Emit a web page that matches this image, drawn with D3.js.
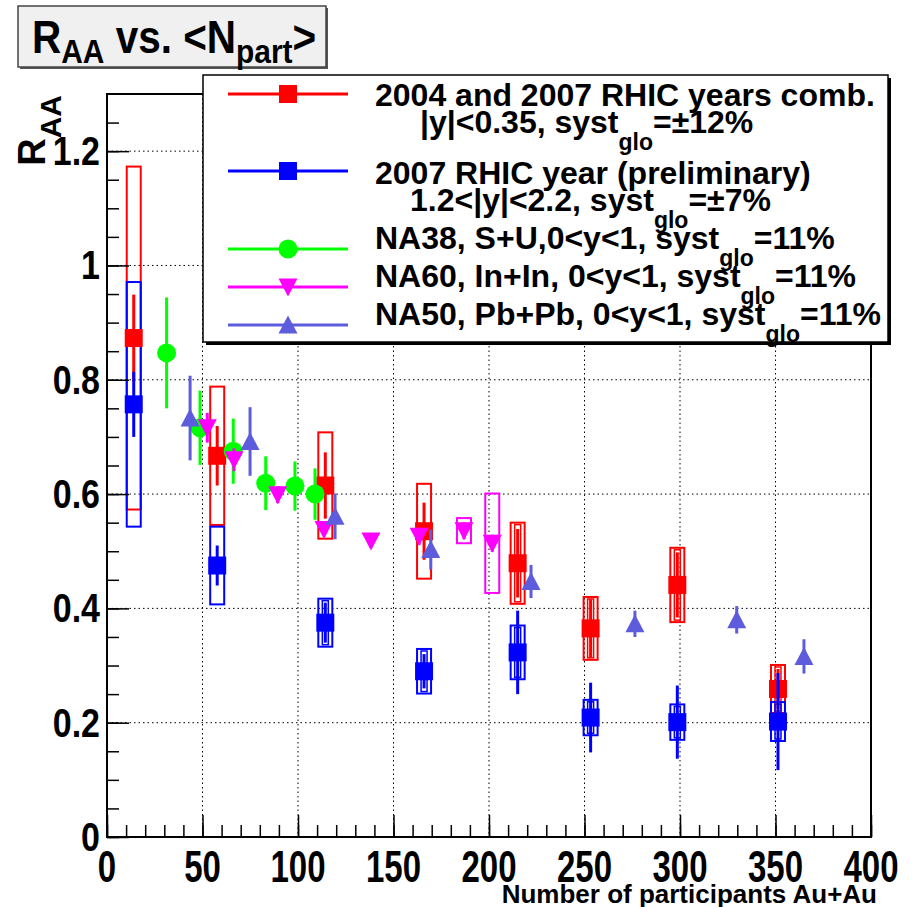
<!DOCTYPE html>
<html>
<head>
<meta charset="utf-8">
<script src="https://cdn.jsdelivr.net/npm/d3@7"></script>
<style>
body { margin: 0; background: #fff; }
svg text { font-family: "Liberation Sans", Arial, Helvetica, sans-serif; font-weight: bold; fill: #000; }
</style>
</head>
<body>
<div id="chart"></div>
<script>
// Au+Au centrality bins (same Npart for both rapidity ranges)
const npartAuAu = [14, 57.7, 114.3, 166, 215, 253.2, 298.6, 351.3];

// 2004 + 2007 combined, |y|<0.35
const raaMid = [0.873, 0.667, 0.615, 0.535, 0.479, 0.365, 0.441, 0.259];
const statMid = [0.076, 0.052, 0.058, 0.05, 0.06, 0.051, 0.057, 0.035];
const systMid = [0.30, 0.121, 0.093, 0.083, 0.071, 0.055, 0.065, 0.042];

// 2007 preliminary, 1.2<|y|<2.2
const raaFwd = [0.757, 0.475, 0.375, 0.29, 0.323, 0.209, 0.201, 0.202];
const statFwd = [0.057, 0.035, 0.035, 0.03, 0.073, 0.061, 0.064, 0.085];
const systFwd = [0.214, 0.068, 0.042, 0.039, 0.047, 0.031, 0.031, 0.034];

// NA38 S+U
const npartNA38 = [31.2, 48.7, 66.1, 83.1, 98.4, 108.9];
const raaNA38 = [0.847, 0.716, 0.675, 0.619, 0.614, 0.6];
const errNA38 = [0.097, 0.065, 0.057, 0.047, 0.043, 0.045];

// NA60 In+In
const npartNA60 = [52.5, 66.5, 89.4, 113.6, 138.2, 163.4, 186.9, 201.7];
const raaNA60 = [0.716, 0.66, 0.599, 0.538, 0.518, 0.526, 0.536, 0.514];
const errNA60 = [0.026, 0.02, 0.015, 0.012, 0.012, 0.015, 0.015, 0.015];
const systNA60 = [0, 0, 0, 0, 0, 0, 0.022, 0.087];

// NA50 Pb+Pb
const npartNA50 = [43.5, 74.9, 119.4, 169.5, 222, 276.4, 329.7, 364.9];
const raaNA50 = [0.733, 0.692, 0.561, 0.503, 0.447, 0.373, 0.38, 0.316];
const errNA50 = [0.074, 0.06, 0.04, 0.035, 0.029, 0.023, 0.024, 0.03];

// axis ticks
const xTicks = [0, 50, 100, 150, 200, 250, 300, 350, 400];
const xTickLabels = ['0', '50', '100', '150', '200', '250', '300', '350', '400'];
const yTicks = [0, 0.2, 0.4, 0.6, 0.8, 1, 1.2];
const yTickLabels = ['0', '0.2', '0.4', '0.6', '0.8', '1', '1.2'];

// legend text, one entry per line; 'sub' pieces are subscripts
const legendText = [
    [['2004 and 2007 RHIC years comb.']],
    [['|y|<0.35, syst'], ['glo', 'sub'], ['=\u00b112%']],
    [['2007 RHIC year (preliminary)']],
    [['1.2<|y|<2.2, syst'], ['glo', 'sub'], ['=\u00b17%']],
    [['NA38, S+U,0<y<1, syst'], ['glo', 'sub'], ['=11%']],
    [['NA60, In+In, 0<y<1, syst'], ['glo', 'sub'], ['=11%']],
    [['NA50, Pb+Pb, 0<y<1, syst'], ['glo', 'sub'], ['=11%']]
];

const RED = '#ff0000', BLUE = '#0000ff', GREEN = '#00ff00', MAGENTA = '#ff00ff', VIOLET = '#5c5cdc';

const margin = { top: 94, right: 43, bottom: 70, left: 107 };
const width = 914 - margin.left - margin.right;
const height = 907 - margin.top - margin.bottom;

const svg = d3.select('#chart').append('svg')
    .attr('width', 914)
    .attr('height', 907);
svg.append('rect').attr('width', 914).attr('height', 907).attr('fill', '#fff');

const x = d3.scaleLinear().domain([0, 400]).range([0, width]);
const y = d3.scaleLinear().domain([0, 1.3]).range([height, 0]);

const g = svg.append('g').attr('transform', `translate(${margin.left},${margin.top})`);

// dotted grid
g.append('g').selectAll('line').data(xTicks.slice(1, -1)).join('line')
    .attr('x1', d => x(d)).attr('x2', d => x(d))
    .attr('y1', 0).attr('y2', height)
    .attr('stroke', '#000').attr('stroke-width', 1).attr('stroke-dasharray', '1.5,3');
g.append('g').selectAll('line').data(yTicks.slice(1)).join('line')
    .attr('x1', 0).attr('x2', width)
    .attr('y1', d => y(d)).attr('y2', d => y(d))
    .attr('stroke', '#000').attr('stroke-width', 1).attr('stroke-dasharray', '1.5,3');

// helpers for the marks
function rows(xs, ys, errs, systs) {
    return xs.map((n, i) => ({ n, r: ys[i], e: errs ? errs[i] : 0, s: systs ? systs[i] : 0, i }));
}

function drawBoxes(data, color, innerFrom) {
    const grp = g.append('g');
    grp.selectAll('rect.outer').data(data.filter(d => d.s > 0)).join('rect')
        .attr('class', 'outer')
        .attr('x', d => x(d.n) - 7).attr('width', 14)
        .attr('y', d => y(d.r + d.s)).attr('height', d => y(d.r - d.s) - y(d.r + d.s))
        .attr('fill', 'none').attr('stroke', color).attr('stroke-width', 2);
    if (innerFrom != null) {
        grp.selectAll('rect.inner').data(data.filter(d => d.i >= innerFrom)).join('rect')
            .attr('class', 'inner')
            .attr('x', d => x(d.n) - 3).attr('width', 6)
            .attr('y', d => y(d.r + d.s) + 2).attr('height', d => y(d.r - d.s) - y(d.r + d.s) - 4)
            .attr('fill', 'none').attr('stroke', color).attr('stroke-width', 1.5);
    }
}

function drawErrors(data, color) {
    g.append('g').selectAll('line').data(data).join('line')
        .attr('x1', d => x(d.n)).attr('x2', d => x(d.n))
        .attr('y1', d => y(d.r + d.e)).attr('y2', d => y(d.r - d.e))
        .attr('stroke', color).attr('stroke-width', 3);
}

const markerPath = {
    square: 'M-9,-9H9V9H-9Z',
    up: 'M0,-9.5L9.5,8.5H-9.5Z',
    down: 'M0,9.5L9.5,-8.5H-9.5Z'
};

function drawMarkers(sel, data, color, shape) {
    const grp = sel.append('g');
    if (shape === 'circle') {
        grp.selectAll('circle').data(data).join('circle')
            .attr('cx', d => x(d.n)).attr('cy', d => y(d.r)).attr('r', 9.5)
            .attr('fill', color);
    } else {
        grp.selectAll('path').data(data).join('path')
            .attr('transform', d => `translate(${x(d.n)},${y(d.r)})`)
            .attr('d', markerPath[shape])
            .attr('fill', color);
    }
}

const midData = rows(npartAuAu, raaMid, statMid, systMid);
const fwdData = rows(npartAuAu, raaFwd, statFwd, systFwd);
const na38Data = rows(npartNA38, raaNA38, errNA38);
const na60Data = rows(npartNA60, raaNA60, errNA60, systNA60);
const na50Data = rows(npartNA50, raaNA50, errNA50);

drawBoxes(midData, RED, 4);
drawBoxes(fwdData, BLUE, 2);
drawBoxes(na60Data, MAGENTA, null);

drawErrors(midData, RED);
drawMarkers(g, midData, RED, 'square');
drawErrors(fwdData, BLUE);
drawMarkers(g, fwdData, BLUE, 'square');
drawErrors(na38Data, GREEN);
drawMarkers(g, na38Data, GREEN, 'circle');
drawErrors(na60Data, MAGENTA);
drawMarkers(g, na60Data, MAGENTA, 'down');
drawErrors(na50Data, VIOLET);
drawMarkers(g, na50Data, VIOLET, 'up');

// frame + inward ticks
g.append('rect').attr('width', width).attr('height', height)
    .attr('fill', 'none').attr('stroke', '#000').attr('stroke-width', 2);

g.append('g').attr('transform', `translate(0,${height})`)
    .call(d3.axisBottom(x).tickValues(d3.range(0, 401, 10)).tickSize(-12).tickFormat(''))
    .call(a => a.select('.domain').remove());
g.append('g').attr('transform', `translate(0,${height})`)
    .call(d3.axisBottom(x).tickValues(xTicks).tickSize(-22).tickFormat(''))
    .call(a => a.select('.domain').remove());
g.append('g')
    .call(d3.axisLeft(y).tickValues(d3.range(0, 1.3, 0.05)).tickSize(-12).tickFormat(''))
    .call(a => a.select('.domain').remove());
g.append('g')
    .call(d3.axisLeft(y).tickValues(yTicks).tickSize(-22).tickFormat(''))
    .call(a => a.select('.domain').remove());
g.selectAll('.tick line').attr('stroke', '#000').attr('stroke-width', 1.5);

// tick labels (ROOT style, narrow)
g.append('g').selectAll('text').data(xTicks).join('text')
    .attr('transform', d => `translate(${x(d)},${height + 45}) scale(0.75,1)`)
    .attr('text-anchor', 'middle')
    .style('font-size', '44px')
    .text((d, i) => xTickLabels[i]);
g.append('g').selectAll('text').data(yTicks).join('text')
    .attr('transform', d => `translate(-7,${y(d) + 14}) scale(0.85,1)`)
    .attr('text-anchor', 'end')
    .style('font-size', '40px')
    .text((d, i) => yTickLabels[i]);

// axis titles
svg.append('text')
    .attr('transform', 'translate(877,903) scale(1.04,1)')
    .attr('text-anchor', 'end')
    .style('font-size', '25px')
    .text('Number of participants Au+Au');

const yTitle = svg.append('text')
    .attr('transform', 'translate(45,95) rotate(-90)')
    .attr('text-anchor', 'end')
    .style('font-size', '38px');
yTitle.append('tspan').text('R');
yTitle.append('tspan').attr('dy', 16).style('font-size', '30px').text('AA');

// legend
const leg = svg.append('g');
leg.append('rect').attr('x', 206).attr('y', 78).attr('width', 685).attr('height', 267).attr('fill', '#000');
leg.append('rect').attr('x', 203).attr('y', 75).attr('width', 685).attr('height', 267)
    .attr('fill', '#fff').attr('stroke', '#000').attr('stroke-width', 1.5);

const legendRows = [
    { color: RED, shape: 'square', y: 94 },
    { color: BLUE, shape: 'square', y: 171 },
    { color: GREEN, shape: 'circle', y: 249 },
    { color: MAGENTA, shape: 'down', y: 287 },
    { color: VIOLET, shape: 'up', y: 325 }
];
legendRows.forEach(row => {
    leg.append('line').attr('x1', 228).attr('x2', 348).attr('y1', row.y).attr('y2', row.y)
        .attr('stroke', row.color).attr('stroke-width', 3);
    if (row.shape === 'circle') {
        leg.append('circle').attr('cx', 288).attr('cy', row.y).attr('r', 9.5).attr('fill', row.color);
    } else {
        leg.append('path').attr('transform', `translate(288,${row.y})`)
            .attr('d', markerPath[row.shape]).attr('fill', row.color);
    }
});

const legendPos = [[375, 106], [420, 133], [375, 184], [410, 211], [375, 249], [375, 287], [375, 325]];
legendText.forEach((parts, li) => {
    const t = leg.append('text')
        .attr('transform', `translate(${legendPos[li][0]},${legendPos[li][1]})`)
        .style('font-size', '32px');
    let shifted = false;
    parts.forEach(p => {
        const ts = t.append('tspan').text(p[0]);
        if (p[1] === 'sub') {
            ts.attr('dy', 17).style('font-size', '23px');
            shifted = true;
        } else if (shifted) {
            ts.attr('dy', -17);
            shifted = false;
        }
    });
});

// title box
svg.append('rect').attr('x', 20).attr('y', 8).attr('width', 308).attr('height', 61).attr('fill', '#555');
svg.append('rect').attr('x', 18).attr('y', 6).attr('width', 308).attr('height', 61)
    .attr('fill', '#f0f0f0').attr('stroke', '#444').attr('stroke-width', 1.5);
const title = svg.append('text')
    .attr('transform', 'translate(32,53) scale(0.88,1)')
    .style('font-size', '46px');
title.append('tspan').text('R');
title.append('tspan').attr('dy', 10).style('font-size', '34px').text('AA');
title.append('tspan').attr('dy', -10).text(' vs. <N');
title.append('tspan').attr('dy', 10).style('font-size', '34px').text('part');
title.append('tspan').attr('dy', -10).text('>');
</script>
</body>
</html>
